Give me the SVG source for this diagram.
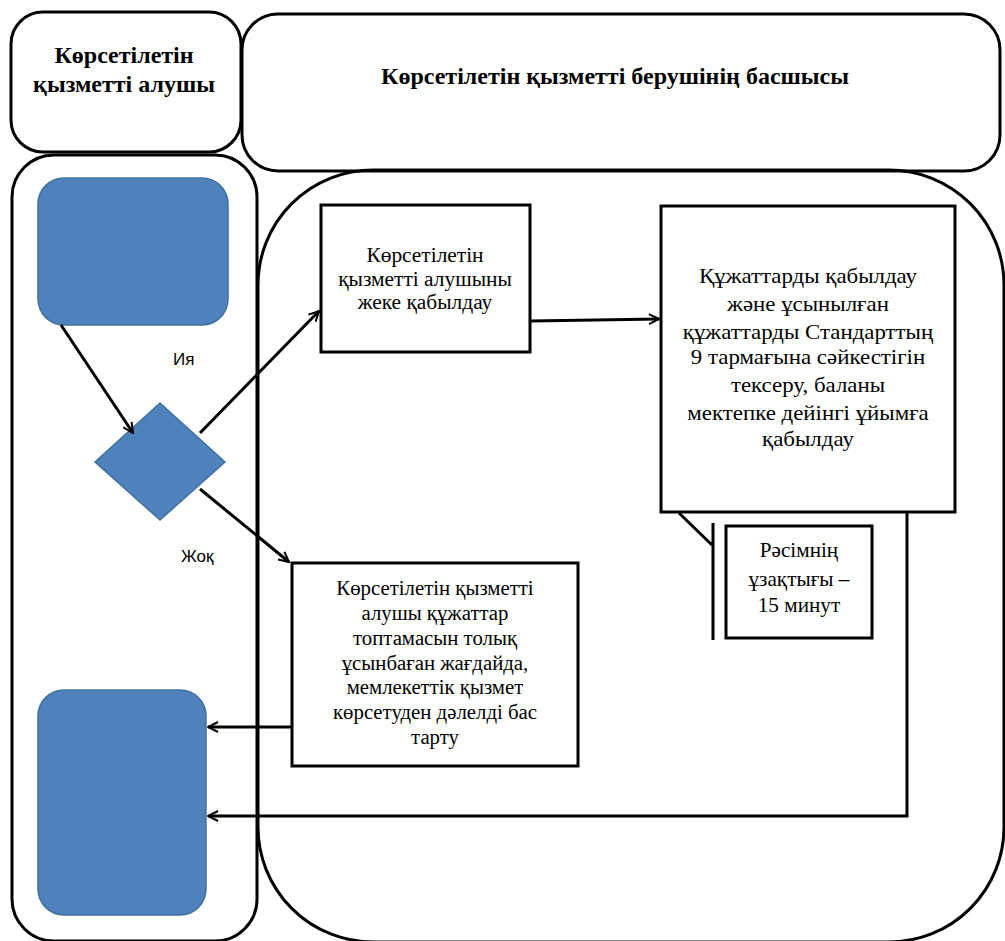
<svg xmlns="http://www.w3.org/2000/svg" width="1005" height="941" viewBox="0 0 1005 941">
<style>
.lane{fill:none;stroke:#000;stroke-width:3}
.box{fill:#fff;stroke:#000;stroke-width:3}
.blue{fill:#4F81BD;stroke:#41719C;stroke-width:1.5}
.hdr{font-family:"Liberation Serif","DejaVu Serif",serif;font-weight:bold;font-size:24px;fill:#000;text-anchor:middle}
.t{font-family:"Liberation Serif","DejaVu Serif",serif;font-size:20px;fill:#000;text-anchor:middle}
.t2{font-family:"Liberation Serif","DejaVu Serif",serif;font-size:22px;fill:#000;text-anchor:middle}
.lbl{font-family:"Liberation Sans",sans-serif;font-size:17px;fill:#000}
.c{fill:none;stroke:#000;stroke-width:3}
</style>
<defs>
<marker id="ah" viewBox="0 0 12 12" refX="11" refY="6" markerWidth="12" markerHeight="12" markerUnits="userSpaceOnUse" orient="auto">
<path d="M1,1 L11,6 L1,11" fill="none" stroke="#000" stroke-width="2"/>
</marker>
</defs>
<rect width="1005" height="941" fill="#fff"/>
<g id="header-left">
<rect class="lane" x="11" y="12" width="230" height="140" rx="32"/>
<text class="hdr" x="124" y="63">Көрсетілетін</text>
<text class="hdr" x="124" y="92">қызметті алушы</text>
</g>
<g id="header-right">
<rect class="lane" x="242" y="14" width="758" height="157" rx="36"/>
<text class="hdr" x="615" y="84">Көрсетілетін қызметті берушінің басшысы</text>
</g>
<g id="lane-left">
<rect class="lane" x="12" y="155" width="245" height="786" rx="42"/>
</g>
<g id="lane-right">
<rect class="lane" x="258" y="170" width="746" height="772" rx="115"/>
</g>
<g id="start">
<rect class="blue" x="38" y="178" width="190" height="147" rx="26"/>
</g>
<g id="decision">
<polygon class="blue" points="160,403 225,462 160,520 95,462"/>
</g>
<g id="end">
<rect class="blue" x="38" y="690" width="168" height="225" rx="26"/>
</g>
<g id="label-yes"><text class="lbl" x="173" y="365">Ия</text></g>
<g id="label-no"><text class="lbl" x="181" y="562">Жоқ</text></g>
<g id="box1">
<rect class="box" x="321" y="205" width="209" height="147"/>
<g transform="matrix(1.07 0 0 1 -29.75 0)">
<text class="t" x="425" y="262">Көрсетілетін</text>
<text class="t" x="425" y="286">қызметті алушыны</text>
<text class="t" x="425" y="309">жеке қабылдау</text>
</g>
</g>
<g id="box2">
<rect class="box" x="661" y="206" width="294" height="306"/>
<g transform="matrix(1.04 0 0 1 -32.32 0)">
<text class="t2" x="808" y="283">Құжаттарды қабылдау</text>
<text class="t2" x="808" y="311">және ұсынылған</text>
<text class="t2" x="808" y="339">құжаттарды Стандарттың</text>
<text class="t2" x="808" y="364">9 тармағына сәйкестігін</text>
<text class="t2" x="808" y="392">тексеру, баланы</text>
<text class="t2" x="808" y="420">мектепке дейінгі ұйымға</text>
<text class="t2" x="808" y="446">қабылдау</text>
</g>
</g>
<g id="box3">
<rect class="box" x="726" y="526" width="146" height="112"/>
<path class="c" d="M679,513 L712,545 M713,523 L713,640"/>
<g transform="matrix(1.06 0 0 1 -47.94 0)">
<text class="t" x="799" y="557">Рәсімнің</text>
<text class="t" x="799" y="586">ұзақтығы –</text>
<text class="t" x="799" y="612">15 минут</text>
</g>
</g>
<g id="box4">
<rect class="box" x="292" y="563" width="286" height="203"/>
<g transform="matrix(1.04 0 0 1 -17.4 0)">
<text class="t" x="435" y="595">Көрсетілетін қызметті</text>
<text class="t" x="435" y="620">алушы құжаттар</text>
<text class="t" x="435" y="645">топтамасын толық</text>
<text class="t" x="435" y="670">ұсынбаған жағдайда,</text>
<text class="t" x="435" y="694">мемлекеттік қызмет</text>
<text class="t" x="435" y="719">көрсетуден дәлелді бас</text>
<text class="t" x="435" y="744">тарту</text>
</g>
</g>
<g id="connectors">
<path class="c" d="M61,325 L133,433" marker-end="url(#ah)"/>
<path class="c" d="M200,433 L319,311" marker-end="url(#ah)"/>
<path class="c" d="M200,489 L289,562" marker-end="url(#ah)"/>
<path class="c" d="M531,321 L659,319" marker-end="url(#ah)"/>
<path class="c" d="M292,727 L208,727" marker-end="url(#ah)"/>
<path class="c" d="M907,512 L907,816 L208,816" marker-end="url(#ah)"/>
</g>
</svg>
